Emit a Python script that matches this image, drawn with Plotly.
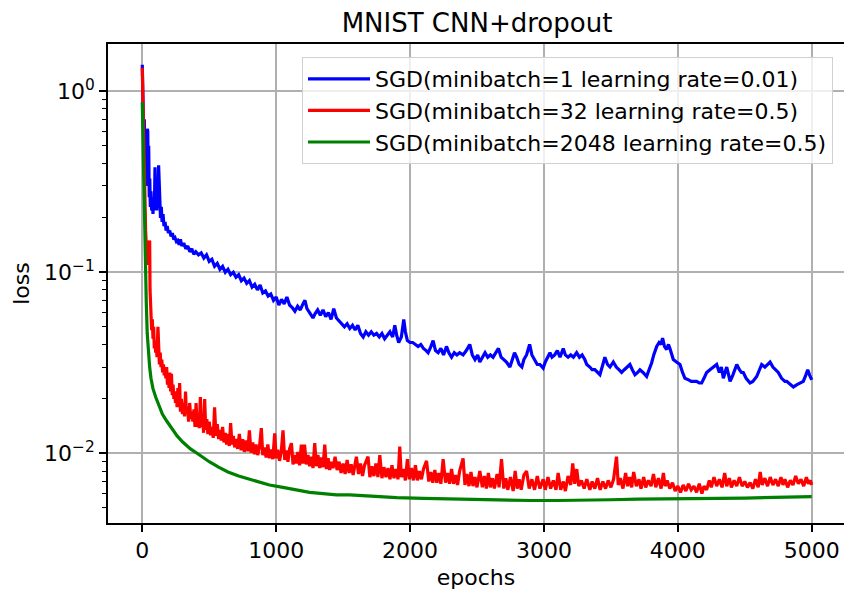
import plotly.graph_objects as go

# ---- training loss curves (loss per epoch, read at irregular epochs) ----
blue_epochs = [0, 3, 6, 9, 12, 15, 18, 21, 24, 27, 30, 34, 38, 41, 44, 48, 52, 56, 60, 65,
               70, 75, 80, 85, 90, 95, 98, 102, 108, 114, 118, 122, 126, 130, 136, 142, 148, 155, 162, 170,
               178, 186, 195, 205, 215, 225, 235, 245, 255, 265, 275, 285, 295, 310, 325, 340, 355, 370, 385, 400,
               420, 440, 460, 480, 500, 520, 540, 560, 580, 600, 620, 640, 660, 680, 700, 720, 740, 760, 780, 800,
               820, 840, 860, 880, 900, 920, 940, 960, 980, 1000, 1020, 1040, 1060, 1080, 1100, 1120, 1140, 1160, 1180, 1200,
               1215, 1230, 1250, 1275, 1290, 1310, 1330, 1350, 1370, 1390, 1410, 1430, 1450, 1470, 1490, 1510, 1530, 1550, 1570, 1590,
               1610, 1630, 1650, 1670, 1690, 1710, 1730, 1750, 1770, 1790, 1810, 1830, 1850, 1870, 1886, 1900, 1915, 1935, 1953, 1965,
               1980, 2000, 2020, 2040, 2060, 2080, 2100, 2120, 2135, 2150, 2172, 2190, 2210, 2230, 2250, 2272, 2290, 2310, 2330, 2350,
               2370, 2396, 2420, 2446, 2465, 2485, 2505, 2521, 2540, 2560, 2580, 2600, 2620, 2640, 2660, 2680, 2700, 2720, 2746, 2765,
               2780, 2796, 2815, 2835, 2850, 2870, 2893, 2910, 2930, 2950, 2970, 2994, 3010, 3030, 3045, 3060, 3080, 3100, 3120, 3144,
               3160, 3180, 3200, 3220, 3244, 3265, 3285, 3305, 3320, 3343, 3360, 3380, 3400, 3418, 3440, 3455, 3475, 3493, 3518, 3540,
               3560, 3580, 3600, 3620, 3642, 3660, 3680, 3700, 3717, 3740, 3767, 3785, 3804, 3820, 3842, 3860, 3875, 3886, 3900, 3916,
               3930, 3941, 3955, 3966, 3990, 4016, 4035, 4053, 4080, 4100, 4116, 4140, 4160, 4178, 4195, 4215, 4240, 4265, 4290, 4310,
               4325, 4340, 4355, 4365, 4380, 4390, 4410, 4425, 4440, 4460, 4475, 4489, 4510, 4539, 4560, 4589, 4610, 4626, 4650, 4670,
               4689, 4710, 4730, 4750, 4775, 4800, 4813, 4840, 4863, 4890, 4913, 4937, 4955, 4970, 4985, 5000]
blue_loss = [1.40, 1.0, 0.80, 0.85, 0.50, 0.70, 0.38, 0.55, 0.33, 0.45, 0.30, 0.40, 0.62, 0.60, 0.35, 0.50, 0.26, 0.33, 0.23, 0.28,
             0.22, 0.25, 0.21, 0.26, 0.22, 0.38, 0.30, 0.24, 0.22, 0.27, 0.24, 0.39, 0.30, 0.22, 0.20, 0.23, 0.19, 0.21, 0.18, 0.19,
             0.17, 0.18, 0.165, 0.17, 0.158, 0.165, 0.152, 0.155, 0.148, 0.150, 0.142, 0.152, 0.140, 0.145, 0.135, 0.140, 0.130, 0.135, 0.126, 0.130,
             0.125, 0.128, 0.120, 0.125, 0.115, 0.118, 0.108, 0.112, 0.104, 0.108, 0.100, 0.104, 0.097, 0.100, 0.094, 0.097, 0.090, 0.093, 0.087, 0.090,
             0.083, 0.086, 0.080, 0.085, 0.077, 0.079, 0.074, 0.076, 0.070, 0.073, 0.066, 0.071, 0.067, 0.073, 0.066, 0.064, 0.061, 0.065, 0.062, 0.067,
             0.070, 0.063, 0.060, 0.056, 0.059, 0.062, 0.058, 0.062, 0.057, 0.060, 0.055, 0.063, 0.056, 0.054, 0.052, 0.050, 0.052, 0.049, 0.051, 0.048,
             0.051, 0.046, 0.044, 0.047, 0.045, 0.047, 0.045, 0.046, 0.044, 0.046, 0.043, 0.045, 0.047, 0.044, 0.051, 0.045, 0.041, 0.044, 0.055, 0.047,
             0.042, 0.041, 0.041, 0.040, 0.039, 0.040, 0.038, 0.037, 0.036, 0.038, 0.042, 0.037, 0.036, 0.038, 0.035, 0.039, 0.036, 0.034, 0.036, 0.035,
             0.036, 0.035, 0.037, 0.040, 0.035, 0.033, 0.035, 0.032, 0.034, 0.036, 0.034, 0.035, 0.034, 0.036, 0.038, 0.034, 0.033, 0.032, 0.030, 0.033,
             0.036, 0.034, 0.031, 0.030, 0.033, 0.035, 0.040, 0.035, 0.033, 0.031, 0.031, 0.0296, 0.032, 0.034, 0.036, 0.034, 0.035, 0.037, 0.034, 0.038,
             0.035, 0.034, 0.035, 0.034, 0.036, 0.034, 0.035, 0.033, 0.031, 0.030, 0.029, 0.029, 0.028, 0.0272, 0.031, 0.034, 0.031, 0.030, 0.032, 0.030,
             0.029, 0.028, 0.029, 0.030, 0.031, 0.029, 0.0272, 0.028, 0.029, 0.028, 0.0266, 0.029, 0.0316, 0.035, 0.039, 0.041, 0.040, 0.0434, 0.039, 0.0375,
             0.040, 0.038, 0.035, 0.033, 0.032, 0.031, 0.028, 0.026, 0.0255, 0.025, 0.025, 0.025, 0.0245, 0.0245, 0.026, 0.028, 0.029, 0.030, 0.031, 0.028,
             0.030, 0.026, 0.028, 0.030, 0.027, 0.025, 0.027, 0.029, 0.031, 0.029, 0.028, 0.028, 0.026, 0.0245, 0.025, 0.0266, 0.029, 0.031, 0.030, 0.031,
             0.032, 0.030, 0.029, 0.028, 0.026, 0.025, 0.025, 0.024, 0.0233, 0.024, 0.0245, 0.025, 0.027, 0.029, 0.027, 0.0255]

red_epochs = [0, 5, 10, 15, 20, 25, 30, 35, 40, 45, 50, 55, 58, 62, 66, 70, 75, 80, 85, 90,
              95, 100, 105, 110, 117, 122, 128, 134, 140, 146, 152, 158, 164, 170, 176, 182, 188, 194, 200, 206,
              212, 218, 224, 230, 236, 242, 248, 254, 260, 266, 272, 279, 285, 292, 300, 308, 316, 323, 330, 338,
              346, 354, 362, 370, 378, 386, 394, 402, 410, 418, 426, 434, 442, 450, 458, 466, 474, 482, 490, 500,
              510, 520, 530, 540, 550, 560, 570, 580, 590, 600, 610, 620, 630, 640, 650, 660, 670, 680, 690, 700,
              712, 725, 738, 750, 762, 775, 788, 800, 812, 825, 838, 850, 862, 875, 889, 900, 912, 925, 938, 950,
              962, 975, 989, 1000, 1012, 1025, 1038, 1051, 1064, 1076, 1088, 1100, 1114, 1126, 1138, 1150, 1162, 1175, 1188, 1200,
              1212, 1225, 1238, 1250, 1262, 1275, 1288, 1300, 1312, 1325, 1338, 1350, 1363, 1375, 1388, 1400, 1412, 1425, 1440, 1455,
              1470, 1485, 1500, 1515, 1530, 1545, 1560, 1575, 1599, 1615, 1630, 1645, 1660, 1686, 1700, 1715, 1730, 1745, 1760, 1774,
              1790, 1805, 1820, 1835, 1850, 1865, 1880, 1895, 1910, 1923, 1935, 1950, 1965, 1980, 1995, 2010, 2025, 2040, 2055, 2070,
              2085, 2100, 2123, 2140, 2155, 2170, 2185, 2200, 2215, 2230, 2247, 2265, 2280, 2295, 2310, 2325, 2340, 2355, 2370, 2396,
              2410, 2425, 2440, 2455, 2470, 2485, 2500, 2521, 2540, 2555, 2570, 2585, 2600, 2615, 2630, 2650, 2665, 2683, 2700, 2715,
              2730, 2750, 2770, 2785, 2800, 2815, 2830, 2850, 2870, 2890, 2910, 2930, 2950, 2970, 2994, 3010, 3030, 3050, 3070, 3090,
              3106, 3125, 3145, 3160, 3180, 3200, 3215, 3230, 3245, 3260, 3280, 3300, 3320, 3343, 3360, 3380, 3400, 3420, 3440, 3460,
              3480, 3500, 3520, 3542, 3555, 3570, 3590, 3610, 3625, 3640, 3655, 3670, 3690, 3710, 3725, 3745, 3760, 3780, 3800, 3818,
              3835, 3855, 3875, 3892, 3905, 3920, 3940, 3960, 3980, 4000, 4020, 4040, 4060, 4080, 4100, 4120, 4140, 4160, 4180, 4195,
              4215, 4235, 4250, 4270, 4290, 4310, 4330, 4350, 4365, 4385, 4400, 4420, 4440, 4460, 4480, 4500, 4520, 4540, 4560, 4580,
              4600, 4615, 4630, 4650, 4670, 4690, 4710, 4730, 4750, 4770, 4785, 4800, 4820, 4840, 4860, 4880, 4900, 4920, 4940, 4960,
              4975, 4990, 5000]
red_loss = [1.35, 0.80, 0.45, 0.30, 0.22, 0.17, 0.14, 0.12, 0.15, 0.11, 0.14, 0.15, 0.080, 0.060, 0.052, 0.048, 0.055, 0.043, 0.050, 0.038,
            0.042, 0.036, 0.040, 0.034, 0.050, 0.035, 0.031, 0.036, 0.030, 0.033, 0.028, 0.031, 0.027, 0.030, 0.026, 0.030, 0.024, 0.027, 0.023, 0.028,
            0.022, 0.0275, 0.021, 0.024, 0.020, 0.022, 0.019, 0.021, 0.018, 0.023, 0.018, 0.0245, 0.017, 0.020, 0.0165, 0.019, 0.016, 0.022, 0.0165, 0.018,
            0.015, 0.019, 0.0155, 0.017, 0.015, 0.0175, 0.014, 0.019, 0.014, 0.016, 0.0138, 0.0205, 0.014, 0.016, 0.013, 0.020, 0.0135, 0.0155, 0.0128, 0.015,
            0.0126, 0.014, 0.0122, 0.018, 0.0125, 0.0145, 0.012, 0.0135, 0.0118, 0.014, 0.0115, 0.013, 0.0112, 0.0128, 0.011, 0.0147, 0.0112, 0.0125, 0.0108, 0.012,
            0.0106, 0.0128, 0.0104, 0.012, 0.0102, 0.0118, 0.0103, 0.0134, 0.0101, 0.0115, 0.0099, 0.0112, 0.0098, 0.0108, 0.0138, 0.0098, 0.0108, 0.0095, 0.0112, 0.0094,
            0.0105, 0.0093, 0.0129, 0.0094, 0.0105, 0.0091, 0.0102, 0.0134, 0.0092, 0.0104, 0.0090, 0.0106, 0.0114, 0.0087, 0.0098, 0.0088, 0.0102, 0.0086, 0.0112, 0.0088,
            0.0112, 0.0087, 0.0098, 0.0085, 0.0096, 0.0083, 0.0114, 0.0085, 0.0098, 0.0083, 0.0095, 0.0084, 0.0112, 0.0082, 0.0094, 0.0081, 0.0090, 0.0083, 0.0096, 0.0081,
            0.0090, 0.0078, 0.0088, 0.0077, 0.0092, 0.0078, 0.0087, 0.0076, 0.0096, 0.0077, 0.0088, 0.0075, 0.0086, 0.0096, 0.0074, 0.0085, 0.0075, 0.0088, 0.0074, 0.0098,
            0.0073, 0.0084, 0.0074, 0.0083, 0.0072, 0.0086, 0.0073, 0.0082, 0.0072, 0.0109, 0.0074, 0.0082, 0.0071, 0.0093, 0.0072, 0.0083, 0.0071, 0.0086, 0.0071, 0.0080,
            0.0072, 0.0082, 0.0091, 0.0070, 0.0079, 0.0069, 0.0081, 0.0069, 0.0078, 0.0068, 0.0093, 0.0069, 0.0078, 0.0068, 0.0082, 0.0068, 0.0076, 0.0067, 0.0080, 0.0094,
            0.0067, 0.0077, 0.0066, 0.0079, 0.0066, 0.0074, 0.0065, 0.0080, 0.0065, 0.0075, 0.0064, 0.0078, 0.0065, 0.0073, 0.0064, 0.0077, 0.0065, 0.0093, 0.0064, 0.0073,
            0.0063, 0.0074, 0.0062, 0.0080, 0.0064, 0.0072, 0.0063, 0.0076, 0.0080, 0.0064, 0.0072, 0.0063, 0.0075, 0.0064, 0.0072, 0.0063, 0.0074, 0.0064, 0.0071, 0.0063,
            0.0078, 0.0063, 0.0070, 0.0062, 0.0075, 0.0067, 0.0088, 0.0068, 0.0082, 0.0066, 0.0071, 0.0064, 0.0072, 0.0063, 0.0070, 0.0064, 0.0073, 0.0063, 0.0070, 0.0064,
            0.0071, 0.0065, 0.0072, 0.0096, 0.0067, 0.0073, 0.0064, 0.0078, 0.0066, 0.0074, 0.0065, 0.0079, 0.0066, 0.0072, 0.0064, 0.0074, 0.0065, 0.0071, 0.0066, 0.0077,
            0.0065, 0.0073, 0.0064, 0.0078, 0.0066, 0.0071, 0.0064, 0.0069, 0.0062, 0.0066, 0.0061, 0.0067, 0.0062, 0.0068, 0.0063, 0.0066, 0.0061, 0.0068, 0.0060, 0.0066,
            0.0063, 0.0071, 0.0065, 0.0074, 0.0066, 0.0072, 0.0065, 0.0078, 0.0066, 0.0073, 0.0065, 0.0071, 0.0066, 0.0074, 0.0066, 0.0070, 0.0065, 0.0069, 0.0064, 0.0072,
            0.0065, 0.0079, 0.0067, 0.0073, 0.0066, 0.0074, 0.0067, 0.0072, 0.0066, 0.0074, 0.0067, 0.0072, 0.0065, 0.0071, 0.0067, 0.0075, 0.0068, 0.0072, 0.0066, 0.0074,
            0.0068, 0.0071, 0.0067]

green_epochs = [0, 5, 10, 15, 20, 25, 30, 37, 45, 55, 65, 80, 100, 120, 150, 180, 220, 260, 300, 360,
                420, 500, 570, 640, 720, 800, 880, 950, 1050, 1150, 1250, 1350, 1450, 1550, 1700, 1900, 2100, 2300, 2500, 2700,
                2900, 3100, 3300, 3500, 3700, 3900, 4100, 4300, 4500, 4700, 4900, 5000]
green_loss = [0.87, 0.55, 0.33, 0.20, 0.13, 0.090, 0.068, 0.046, 0.037, 0.030, 0.026, 0.0228, 0.0205, 0.0188, 0.0165, 0.0152, 0.0137, 0.0125, 0.0116, 0.0106,
              0.0099, 0.0090, 0.0084, 0.0079, 0.0075, 0.0072, 0.0069, 0.0067, 0.0065, 0.0063, 0.0061, 0.0060, 0.0059, 0.0059, 0.0058, 0.0057, 0.00565, 0.0056, 0.0056, 0.00553,
              0.0055, 0.0055, 0.0055, 0.00555, 0.0056, 0.0056, 0.0056, 0.00565, 0.00567, 0.0057, 0.00575, 0.00578]

series = [
    ("SGD(minibatch=1 learning rate=0.01)", blue_epochs, blue_loss, "#0000ff"),
    ("SGD(minibatch=32 learning rate=0.5)", red_epochs, red_loss, "#ff0000"),
    ("SGD(minibatch=2048 learning rate=0.5)", green_epochs, green_loss, "#008000"),
]

x_ticks = [0, 1000, 2000, 3000, 4000, 5000]
y_ticks = [0.01, 0.1, 1]
y_tick_text = ["10<sup>\u22122</sup>", "10<sup>\u22121</sup>", "10<sup>0</sup>"]
y_minor = [m * 10 ** e for e in (-3, -2, -1) for m in range(2, 10)]

FONT = "DejaVu Sans"
LABEL_SIZE = 22
TITLE_SIZE = 26

fig = go.Figure()
for name, ep, loss, color in series:
    fig.add_trace(go.Scatter(x=ep, y=loss, mode="lines", name=name,
                             line=dict(color=color, width=3.2)))

W, H = 844, 590
L, R, T, B = 108, 0, 44, 67

fig.update_layout(
    width=W, height=H,
    margin=dict(l=L, r=R, t=T, b=B, pad=0),
    paper_bgcolor="white", plot_bgcolor="white",
    font=dict(family=FONT, color="black", size=LABEL_SIZE),
    title=dict(text="MNIST CNN+dropout", font=dict(size=TITLE_SIZE, family=FONT, color="black"),
               x=477 / W, xanchor="center", xref="container",
               y=1 - 23 / H, yanchor="middle", yref="container"),
    showlegend=True,
    legend=dict(x=(833 - L) / (W - L - R), xanchor="right", y=1 - (57 - T) / (H - T - B), yanchor="top",
                bgcolor="rgba(255,255,255,0.8)", bordercolor="#d0d0d0", borderwidth=1,
                font=dict(size=LABEL_SIZE, family=FONT, color="black"),
                itemwidth=62),
)

fig.update_xaxes(
    range=[-256, 5241], tickvals=x_ticks, ticktext=[str(v) for v in x_ticks],
    showgrid=True, gridcolor="#b0b0b0", gridwidth=1.6,
    showline=True, linecolor="black", linewidth=1.6, mirror=True,
    ticks="outside", ticklen=7, tickwidth=1.6, tickcolor="black",
    zeroline=False, tickfont=dict(size=LABEL_SIZE, family=FONT),
    title=dict(text="epochs", font=dict(size=LABEL_SIZE, family=FONT), standoff=8),
)
fig.update_yaxes(
    type="log", range=[-2.384, 0.261], tickvals=y_ticks, ticktext=y_tick_text,
    showgrid=True, gridcolor="#b0b0b0", gridwidth=1.6,
    showline=True, linecolor="black", linewidth=1.6, mirror=False,
    ticks="outside", ticklen=7, tickwidth=1.6, tickcolor="black",
    minor=dict(tickmode="array", tickvals=y_minor, ticks="outside", ticklen=4,
               tickwidth=1.2, tickcolor="black", showgrid=False),
    zeroline=False, tickfont=dict(size=LABEL_SIZE, family=FONT),
    title=dict(text="loss", font=dict(size=LABEL_SIZE, family=FONT), standoff=8),
)

fig.write_html("out.html")
